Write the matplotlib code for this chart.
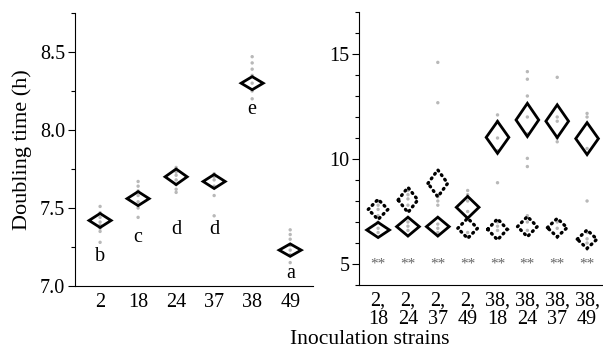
import matplotlib
matplotlib.use("Agg")
import matplotlib.pyplot as plt
from matplotlib.patches import Polygon
from matplotlib.ticker import MultipleLocator

plt.rcParams['font.family'] = ['Liberation Serif', 'DejaVu Serif']

# ---- Left panel data (single strains) ----
single_labels = ["2", "18", "24", "37", "38", "49"]
single_means = [7.42, 7.56, 7.70, 7.67, 8.30, 7.23]
single_halfh = [0.045, 0.045, 0.05, 0.045, 0.042, 0.04]
single_letters = ["b", "c", "d", "d", "e", "a"]
single_letter_y = [7.19, 7.31, 7.36, 7.36, 8.13, 7.08]
single_points = [
    [7.28, 7.35, 7.37, 7.39, 7.41, 7.44, 7.47, 7.51],
    [7.44, 7.50, 7.54, 7.58, 7.61, 7.64, 7.67],
    [7.60, 7.62, 7.65, 7.68, 7.71, 7.73, 7.76],
    [7.45, 7.58, 7.64, 7.68, 7.70, 7.72],
    [8.20, 8.25, 8.30, 8.35, 8.39, 8.43, 8.47],
    [7.15, 7.20, 7.23, 7.26, 7.30, 7.33, 7.36],
]

# ---- Right panel data (pairs) ----
pair_labels = ["2,\n18", "2,\n24", "2,\n37", "2,\n49",
               "38,\n18", "38,\n24", "38,\n37", "38,\n49"]
solid_means = [6.62, 6.78, 6.78, 7.70, 11.03, 11.86, 11.80, 10.97]
solid_halfh = [0.36, 0.45, 0.45, 0.52, 0.76, 0.79, 0.78, 0.76]
dotted_means = [7.60, 8.05, 8.84, 6.70, 6.65, 6.78, 6.73, 6.18]
dotted_halfh = [0.48, 0.60, 0.64, 0.48, 0.50, 0.48, 0.44, 0.44]
sig_marks = ["**"] * 8
sig_y = 5.0
pair_points = [
    [6.5, 6.7, 7.0, 7.3, 7.6, 7.8, 8.0],
    [6.6, 6.8, 7.0, 7.8, 8.1, 8.3, 8.5],
    [6.5, 6.7, 6.9, 7.8, 8.0, 8.2, 12.68, 14.6],
    [6.3, 6.5, 7.2, 7.5, 8.0, 8.3, 8.5],
    [6.6, 6.8, 7.0, 8.87, 10.4, 11.0, 11.8, 12.1],
    [6.6, 7.0, 7.3, 9.64, 10.03, 11.2, 12.0, 13.0, 13.8, 14.16],
    [6.7, 7.0, 10.82, 11.0, 11.8, 12.0, 13.89],
    [6.0, 6.2, 6.5, 8.0, 10.5, 12.0, 12.17],
]

fig = plt.figure(figsize=(6.03, 3.53), dpi=100)
axL = fig.add_axes([75/603, 1-286/353, (313-75)/603, (286-13)/353])
axR = fig.add_axes([359/603, 1-285/353, (602-359)/603, (285-12)/353])

gray = "#b8b8b8"
fs = 14.5


def diamond(ax, x, y, hw, hh, **kw):
    pts = [(x - hw, y), (x, y + hh), (x + hw, y), (x, y - hh)]
    ax.add_patch(Polygon(pts, closed=True, fill=False, zorder=3, **kw))


for ax in (axL, axR):
    ax.spines['top'].set_visible(False)
    ax.spines['right'].set_visible(False)
    ax.tick_params(axis='y', direction='out', length=5, width=0.8, labelsize=fs, pad=2)
    ax.tick_params(axis='y', which='minor', direction='out', length=3, width=0.8)
    ax.tick_params(axis='x', length=0, labelsize=fs, pad=5)

# Left
for i, pts in enumerate(single_points):
    axL.scatter([i] * len(pts), pts, s=6, color=gray, edgecolors='none', zorder=2)
    diamond(axL, i, single_means[i], 0.29, single_halfh[i], edgecolor='black', linewidth=2)
    axL.text(i, single_letter_y[i], single_letters[i], ha='center', va='center', fontsize=fs)
axL.set_xlim(-0.66, 5.6)
axL.set_ylim(7.0, 8.75)
axL.set_xticks(range(len(single_labels)))
axL.set_xticklabels(single_labels)
axL.yaxis.set_major_locator(MultipleLocator(0.5))
axL.yaxis.set_minor_locator(MultipleLocator(0.25))
axL.set_yticklabels([f"{v:.1f}" for v in axL.get_yticks()])
axL.set_ylabel("Doubling time (h)", fontsize=fs + 1.5, labelpad=6)

# Right
for i, pts in enumerate(pair_points):
    axR.scatter([i] * len(pts), pts, s=6, color=gray, edgecolors='none', zorder=2)
    diamond(axR, i, solid_means[i], 0.38, solid_halfh[i], edgecolor='black', linewidth=2)
    diamond(axR, i, dotted_means[i], 0.33, dotted_halfh[i], edgecolor='black',
            linewidth=2.4, linestyle=(0, (0.3, 1.4)), capstyle='round')
    axR.text(i, sig_y, sig_marks[i], ha='center', va='center', fontsize=11, color='#666666')
axR.set_xlim(-0.64, 7.5)
axR.set_ylim(4.0, 17.0)
axR.set_xticks(range(len(pair_labels)))
axR.set_xticklabels(pair_labels, linespacing=0.9)
axR.yaxis.set_major_locator(MultipleLocator(5))
axR.yaxis.set_minor_locator(MultipleLocator(1))

fig.text(370/603, 1-340/353, "Inoculation strains", ha='center', va='center', fontsize=fs + 1)

fig.savefig("out.png", dpi=100)
